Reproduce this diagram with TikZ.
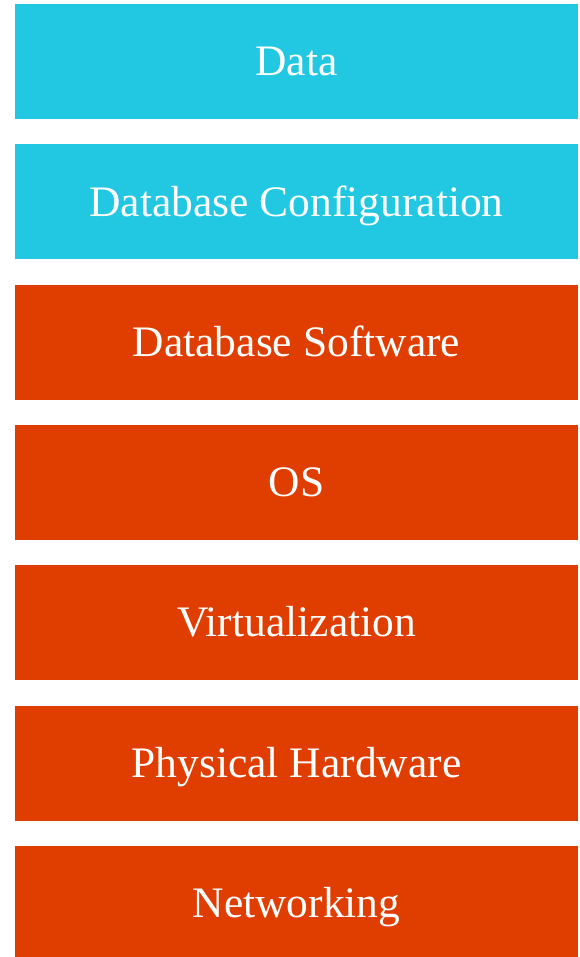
\documentclass[tikz,border=0pt]{standalone}
\usepackage{fontspec}
\setmainfont{Liberation Serif}
\definecolor{layercyan}{RGB}{34,200,226}
\definecolor{layerorange}{RGB}{224,61,0}
\begin{document}
\begin{tikzpicture}[x=1pt,y=1pt,
  layer/.style={minimum width=563pt, minimum height=115pt, inner sep=0pt, text=white,
    font=\fontsize{43.5}{43.5}\selectfont, text height=28.5pt, text depth=0pt, draw=none},
  cyanlayer/.style={layer, fill=layercyan},
  orangelayer/.style={layer, fill=layerorange}]
\useasboundingbox (0,0) rectangle (579,-957);
\clip (0,0) rectangle (579,-957);
\node[cyanlayer]   (data) at (296.5,-61.5) {Data};
\node[cyanlayer]   (dbconf) at (296.5,-201.8) {Database Configuration};
\node[orangelayer] (dbsoft) at (296.5,-342.1) {Database Software};
\node[orangelayer] (os) at (296.5,-482.4) {OS};
\node[orangelayer] (virt) at (296.5,-622.7) {Virtualization};
\node[orangelayer] (phys) at (296.5,-763.0) {Physical Hardware};
\node[orangelayer] (net) at (296.5,-903.3) {Networking};
\end{tikzpicture}
\end{document}
